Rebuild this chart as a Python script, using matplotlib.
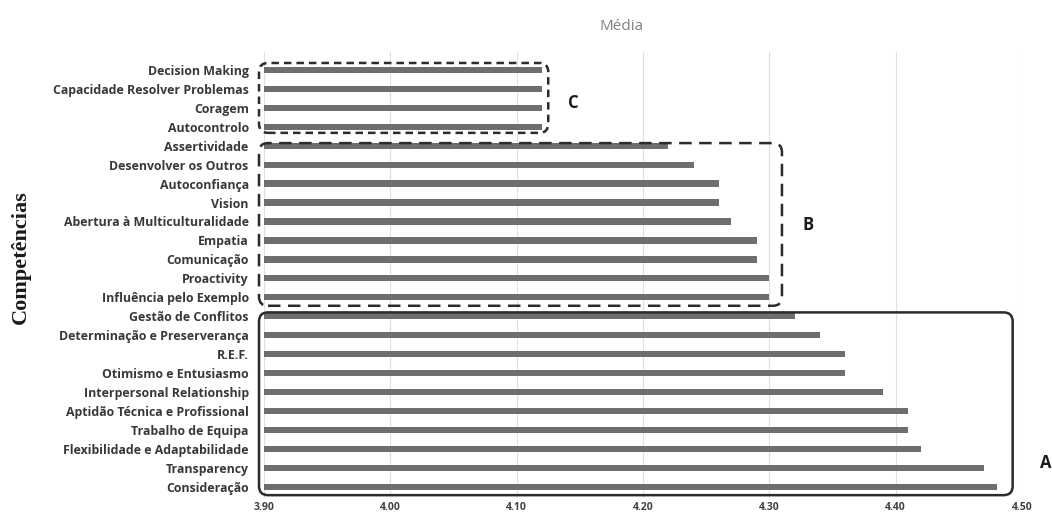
import matplotlib
matplotlib.use("Agg")
import matplotlib.pyplot as plt
from matplotlib.patches import FancyBboxPatch

# Competences, listed top to bottom
competencias = [
    "Decision Making", "Capacidade Resolver Problemas", "Coragem", "Autocontrolo",
    "Assertividade", "Desenvolver os Outros", "Autoconfiança", "Vision",
    "Abertura à Multiculturalidade", "Empatia", "Comunicação", "Proactivity",
    "Influência pelo Exemplo", "Gestão de Conflitos", "Determinação e Preserverança",
    "R.E.F.", "Otimismo e Entusiasmo", "Interpersonal Relationship",
    "Aptidão Técnica e Profissional", "Trabalho de Equipa",
    "Flexibilidade e Adaptabilidade", "Transparency", "Consideração",
]
medias = [
    4.12, 4.12, 4.12, 4.12,
    4.22, 4.24, 4.26, 4.26,
    4.27, 4.29, 4.29, 4.30,
    4.30, 4.32, 4.34,
    4.36, 4.36, 4.39,
    4.41, 4.41,
    4.42, 4.47, 4.48,
]
x_ticks = [3.90, 4.00, 4.10, 4.20, 4.30, 4.40, 4.50]
x_tick_labels = ["3.90", "4.00", "4.10", "4.20", "4.30", "4.40", "4.50"]

# Groups: (label, first row, last row, right edge, line style)
grupos = [
    ("C", 0, 3, 4.125, (0, (3, 2))),
    ("B", 4, 12, 4.31, (0, (5, 3))),
    ("A", 13, 22, 4.4926, "solid"),
]

W, H = 1052, 515
fig = plt.figure(figsize=(W / 100, H / 100), dpi=100)
left, right, bottom, top = 264 / W, 1022 / W, 17 / H, 463 / H
ax = fig.add_axes([left, bottom, right - left, top - bottom])

n = len(competencias)
ypos = [n - 1 - i for i in range(n)]
ax.barh(ypos, [m - 3.90 for m in medias], left=3.90, height=0.33,
        color="#6e6e6e", zorder=2)

ymin, ymax = -0.6, n - 1 + 0.95
ax.set_xlim(3.90, 4.50)
ax.set_ylim(ymin, ymax)
ax.set_xticks(x_ticks)
ax.set_xticklabels(x_tick_labels, fontsize=7.5, color="#404040",
                   fontfamily="Open Sans", fontweight="bold")
ax.set_yticks(ypos)
ax.set_yticklabels(competencias, fontsize=8.9, color="#383838",
                   fontfamily="Open Sans", fontweight="bold")
ax.tick_params(axis="both", length=0)
ax.tick_params(axis="y", pad=11)
ax.tick_params(axis="x", pad=3)
for s in ax.spines.values():
    s.set_visible(False)
ax.grid(axis="x", color="#e0e0e0", linewidth=0.8, zorder=0)
ax.set_axisbelow(True)

# pixel scale of each data unit, used to keep box corners circular
ax_w_px = (right - left) * W
ax_h_px = (top - bottom) * H
px_x = ax_w_px / 0.60
px_y = ax_h_px / (ymax - ymin)
aspect = px_x / px_y
radius_px = 9

# vertical extent of each box and the row where its letter sits
box_top = {"C": 0.37, "B": 0.14, "A": 0.2}
box_bot = {"C": -0.32, "B": -0.45, "A": -0.45}
letter_row = {"C": 20.25, "B": 13.8, "A": 1.27}
letter_gap_px = {"C": 20, "B": 21, "A": 27}

for label, r0, r1, xr, ls in grupos:
    y_top = ypos[r0] + box_top[label]
    y_bot = ypos[r1] + box_bot[label]
    x0 = 3.90 - 5 / px_x
    box = FancyBboxPatch(
        (x0, y_bot), xr - x0, y_top - y_bot,
        boxstyle=f"round,pad=0,rounding_size={radius_px / px_x}",
        mutation_aspect=aspect,
        fill=False, edgecolor="#2b2b2b", linewidth=1.8, linestyle=ls,
        clip_on=False, zorder=3,
    )
    ax.add_patch(box)
    ax.text(xr + letter_gap_px[label] / px_x, letter_row[label],
            label, fontsize=12, fontweight="bold", fontfamily="Open Sans",
            color="#1a1a1a", va="center", ha="left", clip_on=False)

fig.text(622 / W, 1 - 27 / H, "Média", fontsize=11, color="#808080",
         ha="center", va="center", fontfamily="Open Sans")
fig.text(21 / W, 1 - 257 / H, "Competências", fontsize=16, fontweight="bold",
         fontfamily="Liberation Serif", color="#1a1a1a", rotation=90,
         ha="center", va="center")

fig.savefig("out.png", dpi=100, facecolor="white")
